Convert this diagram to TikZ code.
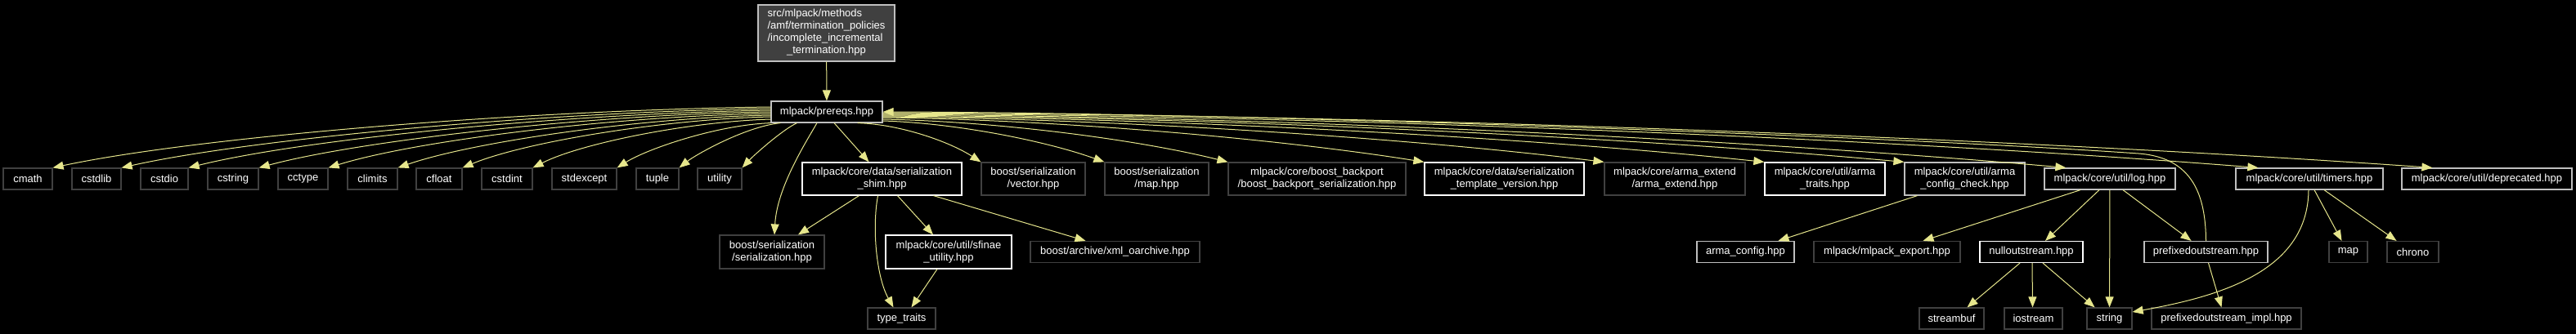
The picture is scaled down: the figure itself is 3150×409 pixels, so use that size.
\documentclass[tikz,border=0pt]{standalone}
\usepackage{fontspec}
\setmainfont{Liberation Sans}
\usetikzlibrary{arrows.meta}
\definecolor{depline}{RGB}{230,230,140}
\definecolor{boxgrey}{RGB}{191,191,191}
\definecolor{boxdark}{RGB}{64,64,64}

\begin{document}
\begin{tikzpicture}[x=1pt,y=-1pt]
\tikzstyle{every node}+=[inner sep=0pt, text=white, font=\fontsize{13}{15}\selectfont, align=center, line width=1.2pt, minimum height=26pt]
\tikzstyle{hdrlink}=[draw=boxgrey, fill=black]
\tikzstyle{hdrdoc}=[draw=white, fill=black]
\tikzstyle{hdrsys}=[draw=boxdark, fill=black]
\tikzstyle{dep}=[draw=depline, line width=1pt, -{Triangle[length=13pt,width=10pt]}]
\useasboundingbox (0,0) rectangle (3150,409);
\fill [black] (0,0) rectangle (3150,409);
\node [hdrlink, fill=boxdark, minimum width=167pt, minimum height=69pt] (root) at (1010.5,40.5) {\begin{tabular}{@{}l@{}}src/mlpack/methods\\/amf/termination\_policies\\/incomplete\_incremental\\\multicolumn{1}{@{}c@{}}{\_termination.hpp}\end{tabular}};
\node [hdrlink, minimum width=136pt] (pre) at (1011,137) {mlpack/prereqs.hpp};
\node [hdrsys, minimum width=60pt] (cmath) at (34,219) {cmath};
\node [hdrsys, minimum width=60pt] (cstdlib) at (118,219) {cstdlib};
\node [hdrsys, minimum width=58pt] (cstdio) at (201,219) {cstdio};
\node [hdrsys, minimum width=62pt] (cstring) at (285,219) {cstring};
\node [hdrsys, minimum width=61pt] (cctype) at (370.5,219) {cctype};
\node [hdrsys, minimum width=61pt] (climits) at (455.5,219) {climits};
\node [hdrsys, minimum width=56pt] (cfloat) at (537,219) {cfloat};
\node [hdrsys, minimum width=62pt] (cstdint) at (620,219) {cstdint};
\node [hdrsys, minimum width=79pt] (stdexcept) at (714.5,219) {stdexcept};
\node [hdrsys, minimum width=52pt] (tuple) at (804,219) {tuple};
\node [hdrsys, minimum width=54pt] (utility) at (880,219) {utility};
\node [hdrdoc, minimum width=195pt, minimum height=40pt] (shim) at (1078.5,219) {mlpack/core/data/serialization\\\_shim.hpp};
\node [hdrsys, minimum width=127pt, minimum height=40pt] (bvector) at (1263.5,219) {boost/serialization\\/vector.hpp};
\node [hdrsys, minimum width=127pt, minimum height=40pt] (bmap) at (1414.5,219) {boost/serialization\\/map.hpp};
\node [hdrsys, minimum width=217pt, minimum height=40pt] (backport) at (1610.5,219) {mlpack/core/boost\_backport\\/boost\_backport\_serialization.hpp};
\node [hdrdoc, minimum width=195pt, minimum height=40pt] (tplver) at (1839.5,219) {mlpack/core/data/serialization\\\_template\_version.hpp};
\node [hdrsys, minimum width=172pt, minimum height=40pt] (armaext) at (2048,219) {mlpack/core/arma\_extend\\/arma\_extend.hpp};
\node [hdrdoc, minimum width=147pt, minimum height=40pt] (armatraits) at (2231.5,219) {mlpack/core/util/arma\\\_traits.hpp};
\node [hdrlink, minimum width=147pt, minimum height=40pt] (cfgcheck) at (2402.5,219) {mlpack/core/util/arma\\\_config\_check.hpp};
\node [hdrlink, minimum width=160pt] (log) at (2580,219) {mlpack/core/util/log.hpp};
\node [hdrlink, minimum width=180pt] (timers) at (2824,219) {mlpack/core/util/timers.hpp};
\node [hdrlink, minimum width=208pt] (deprec) at (3041,219) {mlpack/core/util/deprecated.hpp};
\node [hdrsys, minimum width=128pt, minimum height=41pt] (bser) at (944,308.5) {boost/serialization\\/serialization.hpp};
\node [hdrdoc, minimum width=154pt, minimum height=41pt] (sfinae) at (1160,308.5) {mlpack/core/util/sfinae\\\_utility.hpp};
\node [hdrsys, minimum width=207pt] (xmlarch) at (1363.5,308.5) {boost/archive/xml\_oarchive.hpp};
\node [hdrlink, minimum width=119pt] (armacfg) at (2134.5,308.5) {arma\_config.hpp};
\node [hdrsys, minimum width=179pt] (mlexport) at (2307.5,308.5) {mlpack/mlpack\_export.hpp};
\node [hdrdoc, minimum width=126pt] (nullos) at (2484,308.5) {nulloutstream.hpp};
\node [hdrlink, minimum width=151pt] (prefos) at (2697.5,308.5) {prefixedoutstream.hpp};
\node [hdrsys, minimum width=47pt] (stdmap) at (2871.5,308.5) {map};
\node [hdrsys, minimum width=63pt] (chrono) at (2950.5,308.5) {chrono};
\node [hdrsys, minimum width=83pt] (typetraits) at (1102.5,390) {type\_traits};
\node [hdrsys, minimum width=79pt] (streambuf) at (2386.5,390) {streambuf};
\node [hdrsys, minimum width=71pt] (iostream) at (2486.5,390) {iostream};
\node [hdrsys, minimum width=55pt] (string) at (2579.5,390) {string};
\node [hdrsys, minimum width=183pt] (prefimpl) at (2722.5,390) {prefixedoutstream\_impl.hpp};
\draw [dep] (root) -- (pre);
\draw [dep] ([yshift=6pt]pre.west) .. controls (635,135) and (240,168) .. (cmath.north east);
\draw [dep] ([yshift=4pt]pre.west) .. controls (665,137) and (307,170) .. (cstdlib.north east);
\draw [dep] ([yshift=2pt]pre.west) .. controls (693,139) and (373,170) .. (cstdio.north east);
\draw [dep] (pre.west) .. controls (724,140) and (441,172) .. (cstring.north east);
\draw [dep] ([yshift=-2pt]pre.west) .. controls (753,142) and (509,172) .. (cctype.north east);
\draw [dep] ([yshift=-4pt]pre.west) .. controls (783,144) and (577,174) .. (climits.north east);
\draw [dep] ([yshift=-6pt]pre.west) .. controls (811,146) and (641,174) .. (cfloat.north east);
\draw [dep] ([yshift=-9pt]pre.west) .. controls (841,149) and (709,176) .. (cstdint.north east);
\draw [dep] (pre.south west) .. controls (877,153) and (792,182) .. (stdexcept.north east);
\draw [dep] ([xshift=12pt]pre.south west) .. controls (911,155) and (850,190) .. (tuple.north east);
\draw [dep] ([xshift=32pt]pre.south west) .. controls (955,160) and (920,192) .. (utility.north east);
\draw [dep] ([xshift=9pt]pre.south) -- ([xshift=-16pt]shim.north);
\draw [dep] ([xshift=-12pt]pre.south) .. controls (985,175) and (950,230) .. ([xshift=3pt]bser.north);
\draw [dep] ([xshift=-31pt]pre.south east) .. controls (1101,152) and (1162,174) .. (bvector.north west);
\draw [dep] ([yshift=-11pt]pre.east) .. controls (1174,151) and (1283,174) .. (bmap.north west);
\draw [dep] ([yshift=-9pt]pre.east) .. controls (1227,149) and (1396,172) .. (backport.north west);
\draw [dep] ([yshift=-7pt]pre.east) .. controls (1311,147) and (1576,172) .. (tplver.north west);
\draw [dep] ([yshift=-6pt]pre.east) .. controls (1388,146) and (1741,171) .. (armaext.north west);
\draw [dep] ([yshift=-5pt]pre.east) .. controls (1457,145) and (1888,170) .. (armatraits.north west);
\draw [dep] ([yshift=-4pt]pre.east) .. controls (1517,144) and (2017,170) .. (cfgcheck.north west);
\draw [dep] ([yshift=-3pt]pre.east) .. controls (1586,143) and (2165,173) .. ([xshift=27pt]log.north west);
\draw [dep] ([yshift=-2pt]pre.east) .. controls (1668,142) and (2341,172) .. ([xshift=28pt]timers.north west);
\draw [dep] ([yshift=-1pt]pre.east) .. controls (1743,141) and (2501,172) .. ([xshift=38pt]deprec.north west);
\draw [dep] (prefos.north) .. controls (2697,240) and (2682,193) .. (2615,188) .. controls (2300,166) and (1500,138) .. (pre.east);
\draw [dep] ([xshift=-28pt]shim.south) -- ([xshift=32pt]bser.north);
\draw [dep] ([xshift=-5pt]shim.south) .. controls (1066,280) and (1072,340) .. ([xshift=-10pt]typetraits.north);
\draw [dep] ([xshift=19pt]shim.south) -- ([xshift=-19pt]sfinae.north);
\draw [dep] ([xshift=63pt]shim.south) -- ([xshift=-36pt]xmlarch.north);
\draw [dep] ([xshift=-14pt]sfinae.south) -- ([xshift=12pt]typetraits.north);
\draw [dep] ([xshift=-58pt]cfgcheck.south) -- ([xshift=40pt]armacfg.north);
\draw [dep] ([xshift=-36pt]log.south) -- ([xshift=44pt]mlexport.north);
\draw [dep] ([xshift=-13pt]log.south) -- ([xshift=17pt]nullos.north);
\draw [dep] (log) -- (string);
\draw [dep] ([xshift=16pt]log.south) -- ([xshift=-18pt]prefos.north);
\draw [dep] ([xshift=-14pt]nullos.south) -- ([xshift=19pt]streambuf.north);
\draw [dep] ([xshift=1pt]nullos.south) -- ([xshift=-1pt]iostream.north);
\draw [dep] ([xshift=14pt]nullos.south) -- ([xshift=-18pt]string.north);
\draw [dep] ([xshift=3pt]prefos.south) -- ([xshift=-6pt]prefimpl.north);
\draw [dep] ([xshift=-1pt]timers.south) .. controls (2822,330) and (2720,362) .. ([yshift=8pt]string.east);
\draw [dep] ([xshift=6pt]timers.south) -- ([xshift=-8pt]stdmap.north);
\draw [dep] ([xshift=18pt]timers.south) -- ([xshift=-20pt]chrono.north);
\end{tikzpicture}
\end{document}
